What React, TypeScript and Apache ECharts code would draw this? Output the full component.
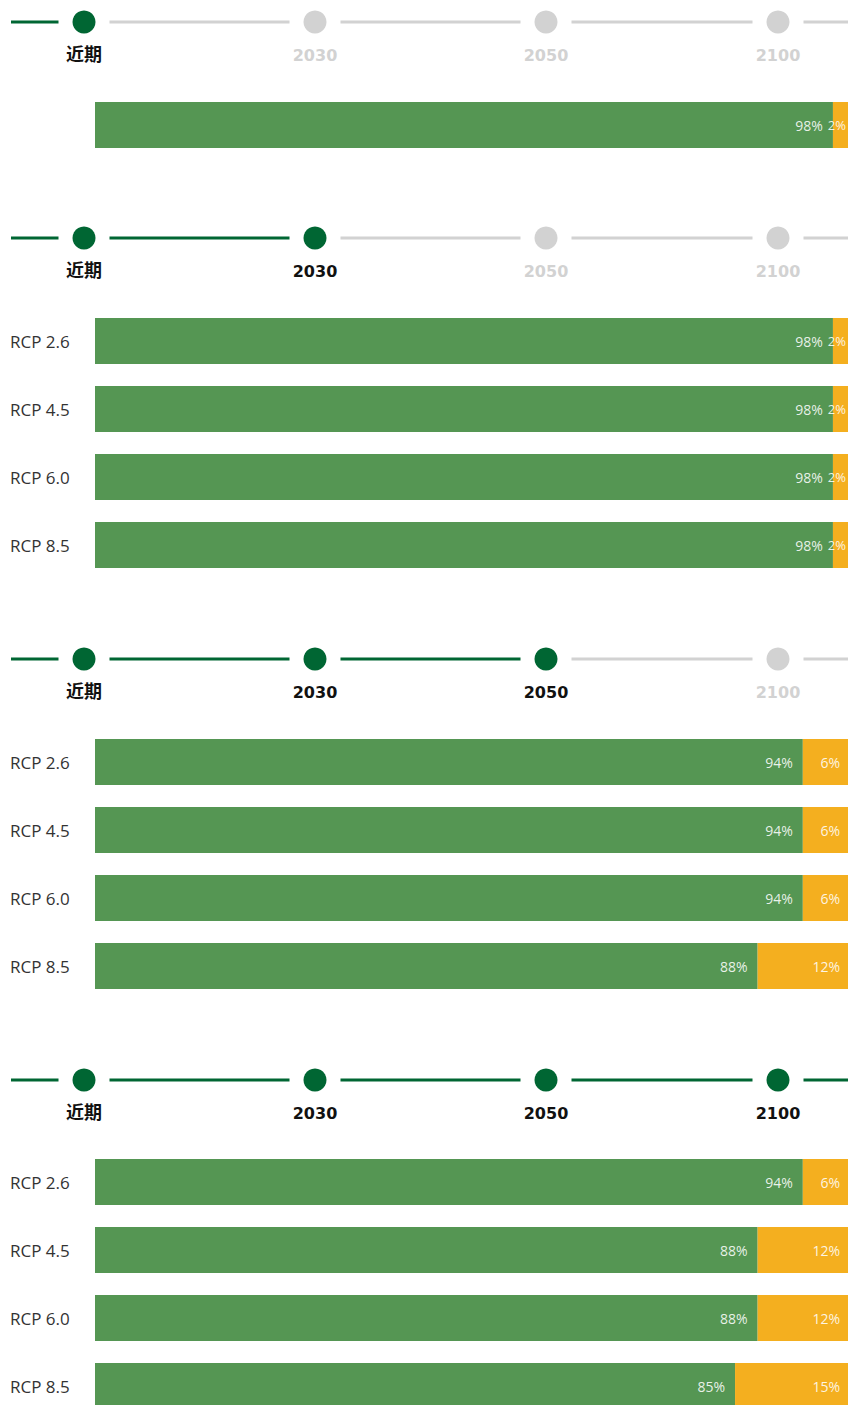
import React, { useEffect, useRef } from "react";
import * as echarts from "echarts";

const horizons = ["近期", "2030", "2050", "2100"];
const scenarios = ["RCP 2.6", "RCP 4.5", "RCP 6.0", "RCP 8.5"];

const nearCategories = ["近期"];
const nearLikely = [98];
const nearChange = [2];

const y2030Likely = [98, 98, 98, 98];
const y2030Change = [2, 2, 2, 2];

const y2050Likely = [94, 94, 94, 88];
const y2050Change = [6, 6, 6, 12];

const y2100Likely = [94, 88, 88, 85];
const y2100Change = [6, 12, 12, 15];

const GREEN = "#559653";
const ORANGE = "#F4AF1F";
const DARK = "#006633";
const GREY = "#D2D2D2";

const W = 848;
const H = 1440;

export default function App() {
  const ref = useRef<HTMLDivElement>(null);

  useEffect(() => {
    if (!ref.current) return;
    const chart = echarts.init(ref.current, undefined, { renderer: "svg" });

    const sections = [
      { cats: nearCategories, likely: nearLikely, change: nearChange, active: 1, lineY: 22, gridTop: 102, showLabels: false },
      { cats: scenarios, likely: y2030Likely, change: y2030Change, active: 2, lineY: 238, gridTop: 307, showLabels: true },
      { cats: scenarios, likely: y2050Likely, change: y2050Change, active: 3, lineY: 659, gridTop: 728, showLabels: true },
      { cats: scenarios, likely: y2100Likely, change: y2100Change, active: 4, lineY: 1080, gridTop: 1148, showLabels: true },
    ];

    const nodeX = [84, 315, 546, 778];
    const R = 11.5;
    const GAP = 14;

    const graphics: any[] = [];
    sections.forEach((s) => {
      for (let i = 0; i <= horizons.length; i++) {
        const x1 = i === 0 ? 11 : nodeX[i - 1] + R + GAP;
        const x2 = i === horizons.length ? W : nodeX[i] - R - GAP;
        const on = i < horizons.length ? i < s.active : s.active === horizons.length;
        graphics.push({
          type: "line",
          shape: { x1, y1: s.lineY, x2, y2: s.lineY },
          style: { stroke: on ? DARK : GREY, lineWidth: 3 },
          silent: true,
        });
      }
      horizons.forEach((h, i) => {
        const on = i < s.active;
        graphics.push({
          type: "circle",
          shape: { cx: nodeX[i], cy: s.lineY, r: R },
          style: { fill: on ? DARK : GREY },
          silent: true,
        });
        graphics.push({
          type: "text",
          x: nodeX[i],
          y: s.lineY + (i === 0 ? 31 : 33),
          style: {
            text: h,
            fill: on ? "#111111" : GREY,
            font: i === 0
              ? "bold 18px 'Noto Sans CJK SC', sans-serif"
              : "bold 16px 'DejaVu Sans', sans-serif",
            textAlign: "center",
            textVerticalAlign: "middle",
          },
          silent: true,
        });
      });
    });

    const grids: any[] = [];
    const xAxes: any[] = [];
    const yAxes: any[] = [];
    const series: any[] = [];

    sections.forEach((s, k) => {
      const h = s.cats.length * (s.cats.length === 1 ? 46 : 68);
      grids.push({ left: 95, width: 753, top: s.gridTop, height: h, containLabel: false });
      xAxes.push({
        gridIndex: k,
        type: "value",
        min: 0,
        max: 100,
        show: false,
        splitLine: { show: false },
      });
      yAxes.push({
        gridIndex: k,
        type: "category",
        data: s.cats,
        inverse: true,
        axisLine: { show: false },
        axisTick: { show: false },
        axisLabel: {
          show: s.showLabels,
          align: "left",
          margin: 85,
          fontSize: 17,
          color: "#333333",
          fontFamily: "'Open Sans', sans-serif",
        },
      });
      const labelStyle = {
        show: true,
        position: "insideRight",
        distance: 10,
        color: "rgba(255,255,255,0.88)",
        fontSize: 14,
        fontFamily: "'Open Sans', sans-serif",
        formatter: (p: any) => p.value + "%",
      };
      series.push({
        type: "bar",
        name: "likely",
        xAxisIndex: k,
        yAxisIndex: k,
        stack: "s" + k,
        barWidth: 46,
        itemStyle: { color: GREEN },
        label: labelStyle,
        data: s.likely,
      });
      series.push({
        type: "bar",
        name: "change",
        xAxisIndex: k,
        yAxisIndex: k,
        stack: "s" + k,
        barWidth: 46,
        itemStyle: { color: ORANGE },
        label: { ...labelStyle, distance: 8 },
        data: s.change.map((v) =>
          v < 5
            ? { value: v, label: { position: "insideRight", distance: 2, fontSize: 13 } }
            : v
        ),
      });
    });

    chart.setOption({
      animation: false,
      backgroundColor: "#ffffff",
      grid: grids,
      xAxis: xAxes,
      yAxis: yAxes,
      series,
      graphic: graphics,
    });

    return () => chart.dispose();
  }, []);

  return (
    <div
      ref={ref}
      style={{ position: "absolute", left: 0, top: 0, width: W, height: H }}
    />
  );
}
